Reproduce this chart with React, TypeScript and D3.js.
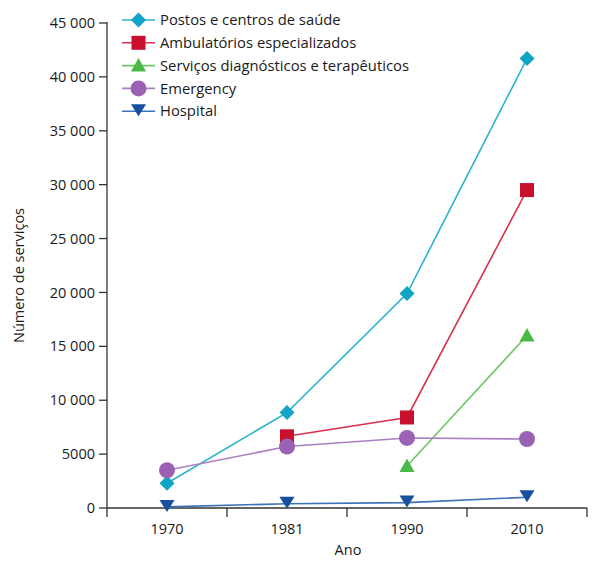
import React from "react";
import * as d3 from "d3";

const years = ["1970", "1981", "1990", "2010"];
const yTicks = [0, 5000, 10000, 15000, 20000, 25000, 30000, 35000, 40000, 45000];
const yTickLabels = ["0", "5000", "10 000", "15 000", "20 000", "25 000", "30 000", "35 000", "40 000", "45 000"];

const postos = [2300, 8850, 19900, 41700];
const ambulatorios = [null, 6650, 8400, 29500];
const servicos = [null, null, 3900, 16000];
const emergency = [3500, 5700, 6500, 6400];
const hospital = [100, 400, 500, 1000];

const seriesNames = [
  "Postos e centros de saúde",
  "Ambulatórios especializados",
  "Serviços diagnósticos e terapêuticos",
  "Emergency",
  "Hospital",
];

type Shape = "diamond" | "square" | "triangle" | "circle" | "triangleDown";

const series: { name: string; values: (number | null)[]; color: string; line: string; shape: Shape }[] = [
  { name: seriesNames[0], values: postos, color: "#10a5c6", line: "#2bb3d1", shape: "diamond" },
  { name: seriesNames[1], values: ambulatorios, color: "#c8102e", line: "#d8324f", shape: "square" },
  { name: seriesNames[2], values: servicos, color: "#4ab946", line: "#6cc766", shape: "triangle" },
  { name: seriesNames[3], values: emergency, color: "#9b62b4", line: "#ab7fc3", shape: "circle" },
  { name: seriesNames[4], values: hospital, color: "#17509e", line: "#3d72b8", shape: "triangleDown" },
];

const FONT = "'Open Sans', 'DejaVu Sans', sans-serif";

function Marker({ shape, x, y, color }: { shape: Shape; x: number; y: number; color: string }) {
  switch (shape) {
    case "diamond":
      return <path d={`M${x},${y - 7.5}L${x + 7.5},${y}L${x},${y + 7.5}L${x - 7.5},${y}Z`} fill={color} />;
    case "square":
      return <rect x={x - 7} y={y - 7} width={14} height={14} fill={color} />;
    case "triangle":
      return <path d={`M${x},${y - 7.5}L${x + 7.5},${y + 6}L${x - 7.5},${y + 6}Z`} fill={color} />;
    case "triangleDown":
      return <path d={`M${x - 7.5},${y - 7}L${x + 7.5},${y - 7}L${x},${y + 5}Z`} fill={color} />;
    case "circle":
      return <circle cx={x} cy={y} r={8} fill={color} />;
  }
}

export default function App() {
  const width = 600;
  const height = 572;
  const left = 107;
  const right = 587;
  const top = 23;
  const bottom = 508;

  const x = d3.scaleBand<string>().domain(years).range([left, right]);
  const y = d3.scaleLinear().domain([0, 45000]).range([bottom, top]);
  const line = d3
    .line<[number, number | null]>()
    .defined((d) => d[1] !== null)
    .x((d) => (x(years[d[0]]) as number) + x.bandwidth() / 2)
    .y((d) => y(d[1] as number));

  const boundaries = [...years.map((yr) => x(yr) as number), right];

  return (
    <svg width={width} height={height} style={{ position: "absolute", left: 0, top: 0 }} fontFamily={FONT}>
      <rect width={width} height={height} fill="#fff" />
      {/* axes */}
      <line x1={left} x2={left} y1={top - 1} y2={bottom} stroke="#333" strokeWidth={1.3} />
      <line x1={left} x2={right} y1={bottom} y2={bottom} stroke="#333" strokeWidth={1.3} />
      {yTicks.map((t, i) => (
        <g key={t}>
          <line x1={left - 8} x2={left} y1={y(t)} y2={y(t)} stroke="#333" strokeWidth={1.3} />
          <text x={left - 12} y={y(t)} dy="0.35em" textAnchor="end" fontSize={14.5} fill="#1a1a1a">
            {yTickLabels[i]}
          </text>
        </g>
      ))}
      {boundaries.map((b, i) => (
        <line key={i} x1={b} x2={b} y1={bottom} y2={bottom + 9} stroke="#333" strokeWidth={1.3} />
      ))}
      {years.map((yr) => (
        <text key={yr} x={(x(yr) as number) + x.bandwidth() / 2} y={bottom + 26} textAnchor="middle" fontSize={14.5} fill="#1a1a1a">
          {yr}
        </text>
      ))}
      <text x={348} y={555} textAnchor="middle" fontSize={14.5} fill="#1a1a1a">
        Ano
      </text>
      <text transform={`translate(24,${(top + bottom) / 2 + 10}) rotate(-90)`} textAnchor="middle" fontSize={14.5} fill="#1a1a1a">
        Número de serviços
      </text>

      {/* series */}
      {series.map((s) => {
        const pts = s.values.map((v, i) => [i, v] as [number, number | null]);
        return (
          <g key={s.name}>
            <path d={line(pts) || ""} fill="none" stroke={s.line} strokeWidth={1.6} />
            {pts
              .filter((p) => p[1] !== null)
              .map((p) => (
                <Marker
                  key={p[0]}
                  shape={s.shape}
                  x={(x(years[p[0]]) as number) + x.bandwidth() / 2}
                  y={y(p[1] as number)}
                  color={s.color}
                />
              ))}
          </g>
        );
      })}

      {/* legend */}
      {series.map((s, i) => {
        const ly = 20 + i * 22.8;
        return (
          <g key={s.name}>
            <line x1={122} x2={155} y1={ly} y2={ly} stroke={s.line} strokeWidth={1.6} />
            <Marker shape={s.shape} x={138.5} y={ly} color={s.color} />
            <text x={160} y={ly} dy="0.35em" fontSize={14.8} fill="#1a1a1a">
              {s.name}
            </text>
          </g>
        );
      })}
    </svg>
  );
}
